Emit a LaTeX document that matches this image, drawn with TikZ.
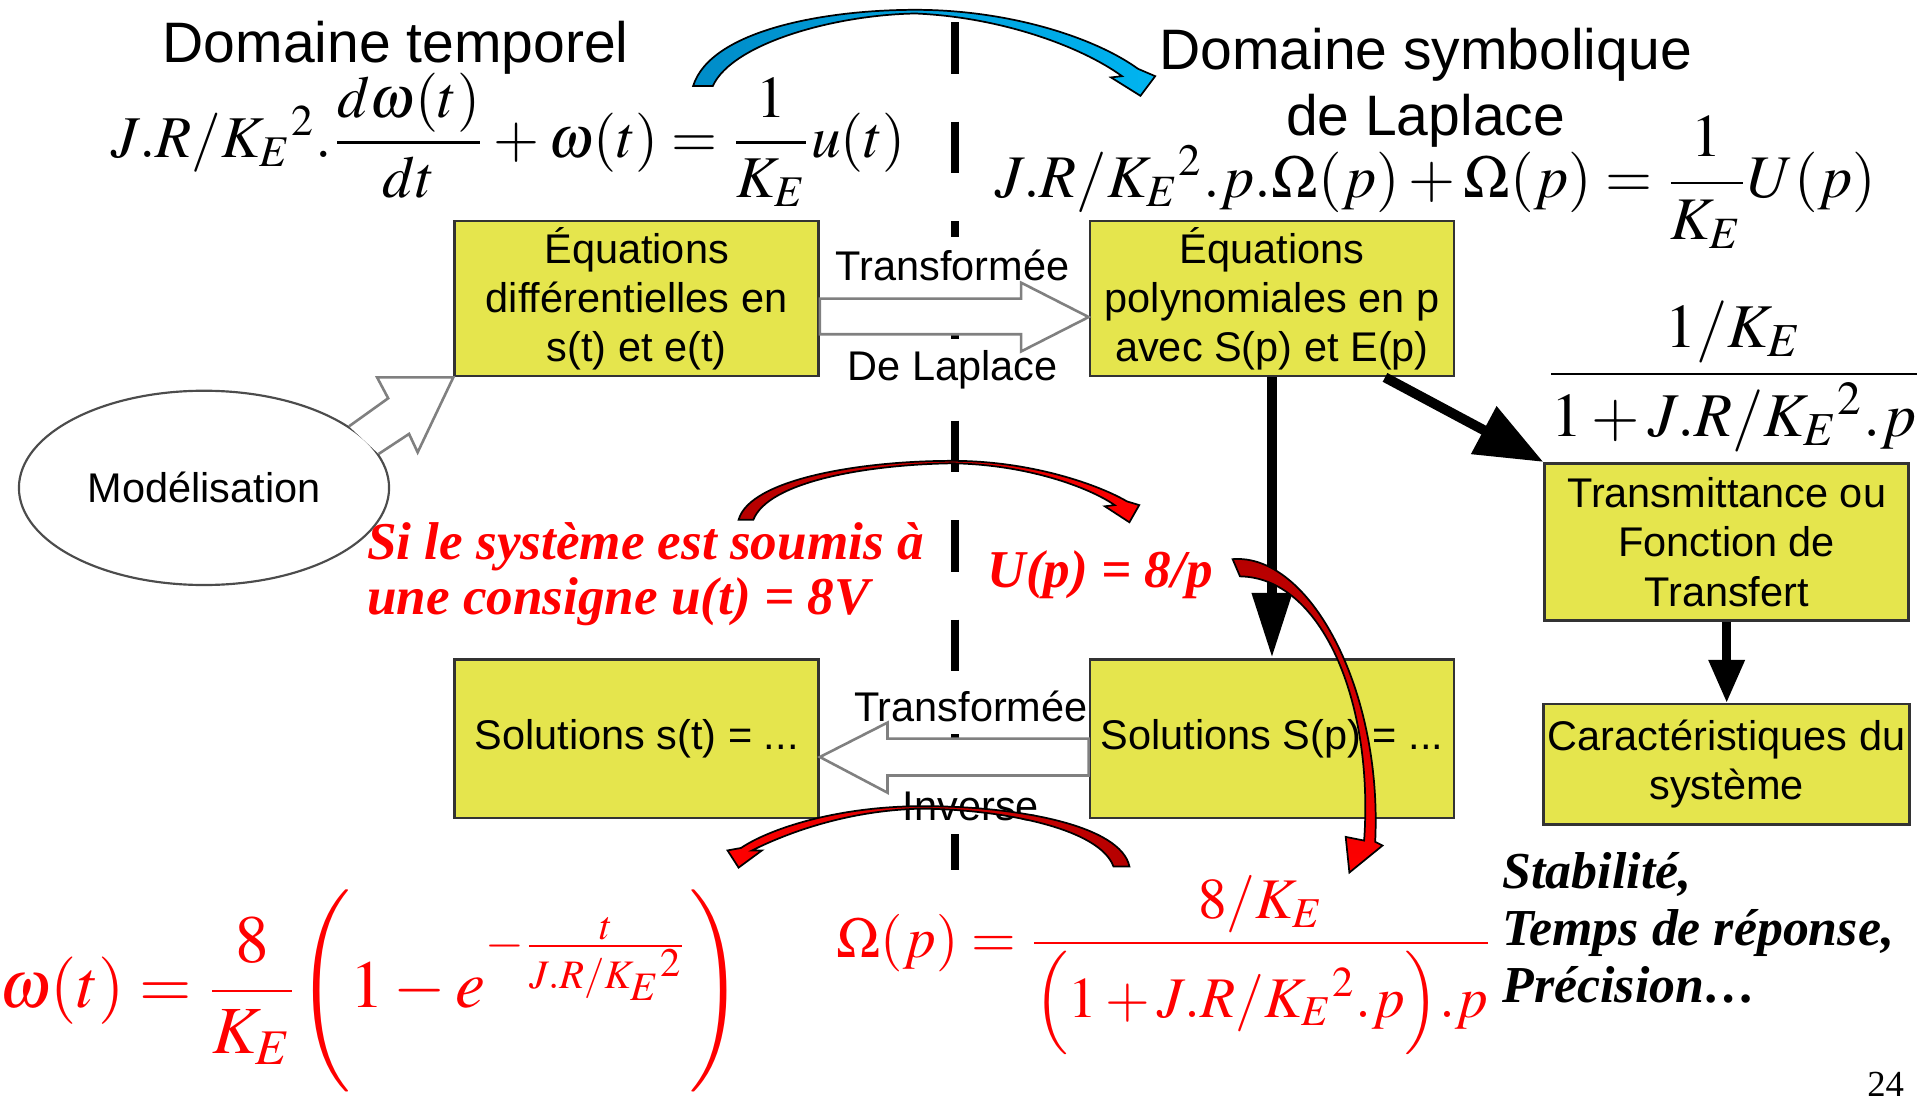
\documentclass[tikz,border=0pt]{standalone}
\usepackage{amsmath}
\usepackage{mathptmx}
\usepackage[no-math]{fontspec}
\setmainfont{Liberation Sans}
\newfontfamily\tnr{Liberation Serif}
\usetikzlibrary{calc,arrows.meta,shapes.geometric}
\definecolor{bxyellow}{RGB}{229,229,77}
\definecolor{rougef}{RGB}{180,0,0}
\definecolor{bleu}{RGB}{0,140,200}
\definecolor{bleuc}{RGB}{0,180,240}
\tikzstyle{bx}=[shape=rectangle, draw=black!80, line width=.6pt, fill=bxyellow, minimum width=2.96cm, inner sep=1pt, align=center, font=\fontsize{9.6}{11.4}\selectfont]
\tikzstyle{lbl}=[fill=white, inner sep=.1cm, font=\fontsize{9.6}{11.4}\selectfont]
\tikzstyle{hollow}=[draw=gray, line width=.6pt, fill=white, line join=miter]
\tikzstyle{fat}=[line width=2.3pt, -{Triangle[length=.53cm, width=.31cm]}]
\tikzstyle{ribbon}=[draw=black, line width=.4pt]
\tikzstyle{eq}=[inner sep=0, font=\fontsize{14}{17}\selectfont]
\tikzstyle{rtxt}=[inner sep=0, text=red, align=left, font=\tnr\bfseries\itshape\fontsize{12.3}{12.8}\selectfont]

\begin{document}
\begin{tikzpicture}[x=.01cm, y=-.01cm]
\useasboundingbox (0,0) rectangle (1568,898);
% separation temporel / Laplace
\coordinate (s1) at (777,18);
\coordinate (s2) at (777,708);
\draw[line width=1.7pt, dash pattern=on .42cm off .39cm] (s1)--(s2);

% transformees (textes)
\node at (775,228)[lbl, anchor=base](t1){Transformée};
\node at (775,310)[lbl, anchor=base](t2){De Laplace};
\node at (790,587)[lbl, anchor=base](t3){Transformée};
\node at (790,668)[lbl, anchor=base](t4){Inverse};

\node at (322,51)[anchor=base, inner sep=0, font=\fontsize{13.2}{15}\selectfont](dt){Domaine temporel};
\node at (1160,110)[anchor=base, inner sep=0, align=center, font=\fontsize{13.2}{15.1}\selectfont](ds){Domaine symbolique\\de Laplace};

\node at (518,243)[bx, minimum height=1.26cm](ed){Équations\\différentielles en\\s(t) et e(t)};
\node at (1035,243)[bx, minimum height=1.26cm](ep){Équations\\polynomiales en p\\avec S(p) et E(p)};
\node at (1405,441)[bx, minimum height=1.28cm](tr){Transmittance ou\\Fonction de\\Transfert};
\node at (1405,622)[bx, minimum height=.98cm](ca){Caractéristiques du\\système};
\node at (1035,601)[bx, minimum height=1.29cm](sp){Solutions S(p) = ...};
\node at (518,601)[bx, minimum height=1.29cm](st){Solutions s(t) = ...};
\node at (166,397)[ellipse, draw=black!70, line width=.5pt, minimum width=2.95cm, minimum height=1.58cm, font=\fontsize{9.6}{11.4}\selectfont](mo){Modélisation};

\draw[hollow] (ed.east) -- ($(ep.west)+(-55,0)$) -- ($(ep.west)+(-55,-13)$) -- ($(ep.west)+(0,15)$)
  -- ($(ep.west)+(-55,43)$) -- ($(ep.west)+(-55,29)$) -- ($(ed.east)+(0,29)$) -- cycle;
\draw[hollow] (sp.west) -- ($(st.east)+(55,0)$) -- ($(st.east)+(55,-13)$) -- ($(st.east)+(0,15)$)
  -- ($(st.east)+(55,44)$) -- ($(st.east)+(55,30)$) -- ($(sp.west)+(0,30)$) -- cycle;
\draw[hollow] (mo.23) -- ($(ed.south west)+(-53,17)$) -- ($(ed.south west)+(-62,0)$) -- (ed.south west)
  -- ($(ed.south west)+(-29,61)$) -- ($(ed.south west)+(-36,46)$) -- (mo.11);

\draw[fat] (ep.south) -- (sp.north);
\draw[fat, -{Triangle[length=.55cm, width=.42cm]}] ($(ep.south)+(92,0)$) -- (tr.north west);
\draw[line width=2pt, -{Triangle[length=.35cm, width=.28cm]}] (tr.south) -- (ca.north);

\node at (414,128)[eq, anchor=base, font=\fontsize{13.7}{17}\selectfont](e1){$J.R/{K_E}^{2}.\dfrac{d\omega(t)}{dt}+\omega(t)=\dfrac{1}{K_E}u(t)$};
\node at (1168,161)[eq, anchor=base](e2){$J.R/{K_E}^{2}.p.\Omega(p)+\Omega(p)=\dfrac{1}{K_E}U(p)$};
\node at (1411,317)[eq, anchor=base, font=\fontsize{14.4}{17}\selectfont](ft){$\dfrac{1/K_E}{1+J.R/{K_E}^{2}.p}$};

\node at (298,500)[rtxt, anchor=base west](cs){Si le système est soumis à\\une consigne u(t) = 8V};
\node at (803,478)[rtxt, anchor=base west](up){U(p) = 8/p};
\node at (302,820)[eq, anchor=base, text=red, font=\fontsize{15.6}{19}\selectfont](wt){$\omega(t)=\dfrac{8}{K_E}\Biggl(1-e^{-\frac{t}{J.R/{K_E}^{2}}}\Biggr)$};
\node at (948,779)[eq, anchor=base, text=red, font=\fontsize{13.3}{16}\selectfont](wp){$\Omega(p)=\dfrac{8/K_E}{\Bigl(1+J.R/{K_E}^{2}.p\Bigr).p}$};
\node at (1222,816)[anchor=base west, inner sep=0, align=left, font=\tnr\bfseries\itshape\fontsize{12}{13.2}\selectfont](pr){Stabilité,\\Temps de réponse,\\Précision…};
\node at (1550,892)[anchor=base east, inner sep=0, font=\tnr\fontsize{8.5}{10}\selectfont](pg){24};

% fleches courbes
\path[ribbon, left color=bleu, right color=bleuc] (564,70) .. controls (578,25) and (670,8) .. (745,8) .. controls (820,8) and (890,30) .. (926,56)
  -- (940,62) -- (928,78) -- (904,63) -- (913,62) .. controls (880,38) and (815,14) .. (745,11) .. controls (680,12) and (596,35) .. (580,70) -- cycle;
\path[ribbon, left color=rougef, right color=red] (601,423) .. controls (610,390) and (700,375) .. (775,375) .. controls (840,375) and (895,395) .. (917,408)
  -- (927,411) -- (919,425) -- (899,412) -- (907,411) .. controls (885,396) and (835,378) .. (775,377) .. controls (705,378) and (625,392) .. (613,423) -- cycle;
\path[ribbon, top color=rougef, bottom color=red] (1003,455) .. controls (1065,450) and (1125,560) .. (1119,685)
  -- (1125,688) -- (1098,710) -- (1095,681) -- (1110,684) .. controls (1118,570) and (1075,470) .. (1009,469) -- cycle;
\path[ribbon, left color=red, right color=rougef] (919,705) .. controls (912,672) and (830,656) .. (751,656) .. controls (680,656) and (625,675) .. (603,690)
  -- (592,692) -- (601,706) -- (620,692) -- (612,692) .. controls (640,678) and (690,659) .. (751,658) .. controls (820,659) and (895,675) .. (906,705) -- cycle;
\end{tikzpicture}
\end{document}
